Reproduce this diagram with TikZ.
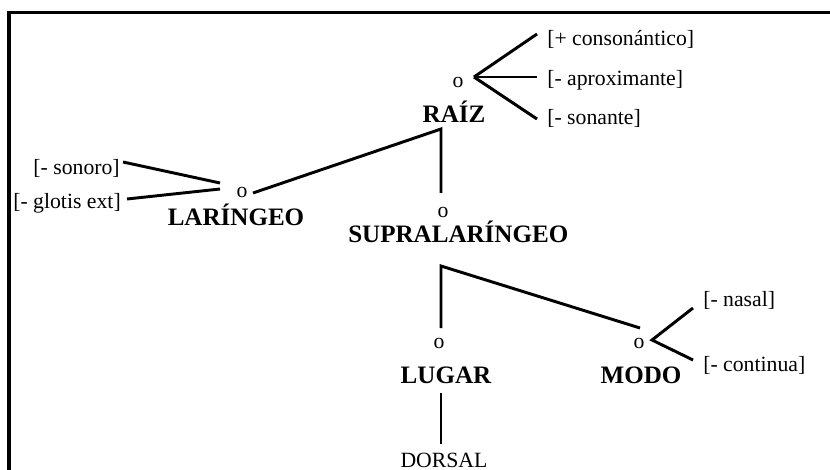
\documentclass[tikz,border=0pt]{standalone}
\usepackage{fontspec}
\setmainfont{Liberation Serif}
\usetikzlibrary{positioning}

\begin{document}
\begin{tikzpicture}[
  x=0.75pt, y=-0.75pt,
  ln/.style={line width=2.2pt},
  frame/.style={line width=2.5pt},
  feat/.style={font=\fontsize{16.3}{19}\selectfont, inner sep=0pt},
  knot/.style={font=\fontsize{16.3}{19}\selectfont, inner sep=0pt},
  cat/.style={font=\fontsize{18.8}{22}\selectfont\bfseries, inner sep=0pt}
]
\useasboundingbox (0,0) rectangle (830,470);
\draw[frame] (9,472) -- (9,12.5) -- (832,12.5);

\node[knot, anchor=base] (oraiz) at (458,88) {o};
\node[cat, anchor=base] (raiz) at (454,123) {RAÍZ};
\node[feat, anchor=west] (cons) at (547,39) {[+ consonántico]};
\node[feat, anchor=west] (aprox) at (547,80) {[- aproximante]};
\node[feat, anchor=west] (son) at (547,118) {[- sonante]};

\node[feat, anchor=east] (sonoro) at (120,168) {[- sonoro]};
\node[feat, anchor=east] (glotis) at (121,203) {[- glotis ext]};
\node[knot, anchor=base] (olar) at (242,198) {o};
\node[cat, anchor=base] (lar) at (236,225) {LARÍNGEO};

\node[knot, anchor=base] (osupra) at (443,217) {o};
\node[cat, anchor=base west] (supra) at (348,242) {SUPRALARÍNGEO};

\node[knot, anchor=base] (olugar) at (439,348) {o};
\node[cat, anchor=base] (lugar) at (446,383) {LUGAR};
\node[feat, anchor=base] (dorsal) at (444,467) {DORSAL};

\node[knot, anchor=base] (omodo) at (639,348) {o};
\node[cat, anchor=base] (modo) at (641,383) {MODO};
\node[feat, anchor=west] (nasal) at (703,300) {[- nasal]};
\node[feat, anchor=west] (cont) at (703,365) {[- continua]};

\coordinate (raizF) at (474,77);
\coordinate (larA) at (220,183);
\coordinate (larB) at (220,189);
\coordinate (larR) at (253,193);
\coordinate (raizC) at (441,129);
\coordinate (supraT) at (441,193);
\coordinate (supraB) at (441,266);
\coordinate (lugarT) at (441,328);
\coordinate (modoT) at (640,328);
\coordinate (lugarB) at (441,393);
\coordinate (dorsalT) at (441,444);
\coordinate (modoF) at (652,340);

\draw[ln] (raizF) -- ([xshift=-7.5pt,yshift=3.75pt]cons.west);
\draw[ln] (raizF) -- ([xshift=-7.5pt,yshift=2.25pt]aprox.west);
\draw[ln] (raizF) -- ([xshift=-7.5pt,yshift=-0.75pt]son.west);
\draw[ln] ([xshift=2.25pt,yshift=4.5pt]sonoro.east) -- (larA);
\draw[ln] ([xshift=4.5pt,yshift=3pt]glotis.east) -- (larB);
\draw[ln] (larR) -- (raizC) -- (supraT);
\draw[ln] (lugarT) -- (supraB) -- (modoT);
\draw[ln] (lugarB) -- (dorsalT);
\draw[ln] ([xshift=-7.5pt,yshift=-6pt]nasal.west) -- (modoF) -- ([xshift=-7.5pt,yshift=3.75pt]cont.west);
\end{tikzpicture}
\end{document}
